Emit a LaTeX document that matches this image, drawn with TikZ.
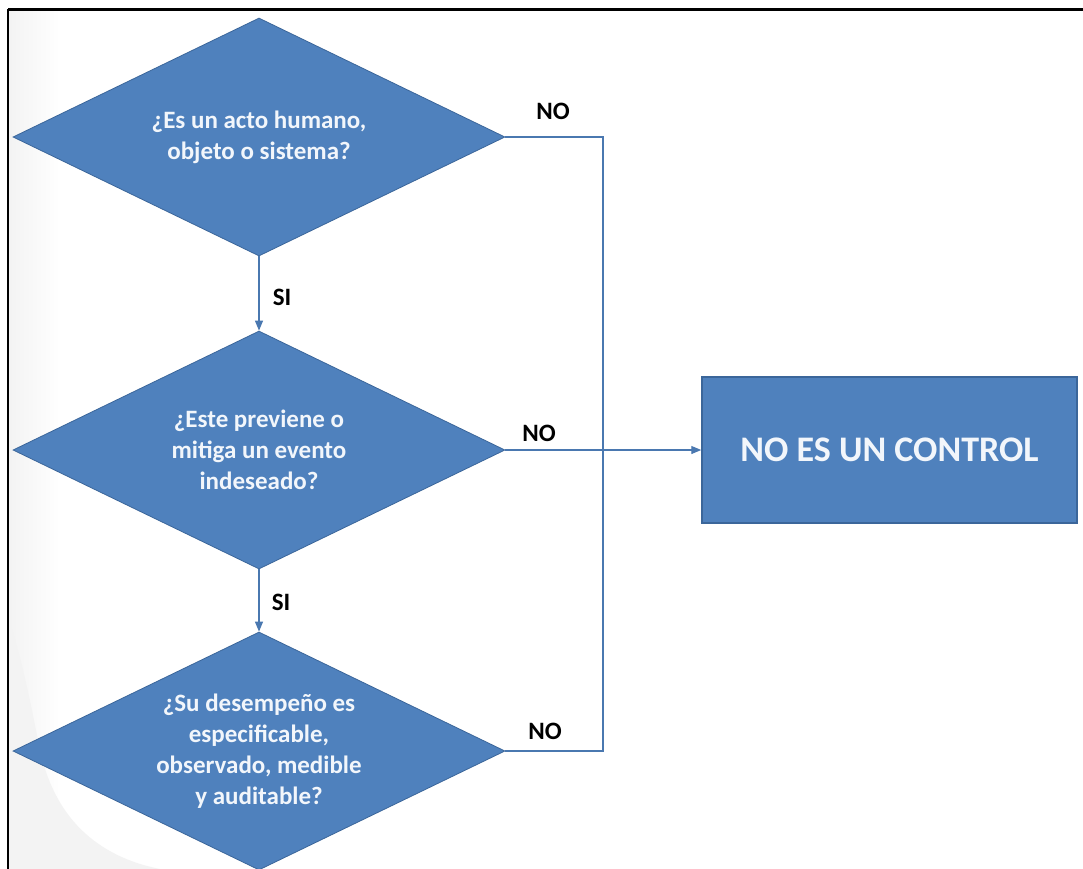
\documentclass[tikz,border=0pt]{standalone}
\usepackage{fontspec}
\setmainfont{Carlito}
\usetikzlibrary{shapes.geometric,arrows.meta}
\definecolor{boxblue}{HTML}{4F81BD}
\definecolor{boxedge}{HTML}{3B669A}
\definecolor{linkblue}{HTML}{4A78B0}
\definecolor{qtext}{HTML}{F2F6FB}
\definecolor{haze}{HTML}{F3F3F3}
\tikzset{
  question/.style={diamond, shape aspect=2, inner sep=0pt,
    minimum width=492pt, minimum height=238pt,
    fill=boxblue, draw=boxedge, line width=0.8pt,
    text=qtext, align=center,
    font=\bfseries\fontsize{25}{31}\selectfont},
  outcome/.style={rectangle, minimum width=375pt, minimum height=146pt,
    fill=boxblue, draw=boxedge, line width=1.5pt,
    text=qtext, font=\bfseries\fontsize{36}{40}\selectfont},
  link/.style={draw=linkblue, line width=1.2pt},
  flow/.style={link, -{Triangle[length=10pt,width=8pt]}},
  answer/.style={text=black, font=\bfseries\fontsize{25}{28}\selectfont, inner sep=0pt}
}
\begin{document}
\begin{tikzpicture}[x=1pt,y=-1pt]
\useasboundingbox (0,0) rectangle (1083,869);
\fill[white] (0,0) rectangle (1083,869);

% soft grey shadow along the left margin
\shade[left color=haze, right color=white] (9,10) rectangle (60,869);
\fill[haze] (9,620) .. controls (22,660) and (30,700) .. (38,740)
  .. controls (50,810) and (90,855) .. (160,869) -- (9,869) -- cycle;

% frame: top and left rules
\draw[black, line width=2.5pt] (8,9.5) -- (1083,9.5);
\draw[black, line width=2pt] (8,9) -- (8,869);

% decisions
\node[question] (q1) at (259,137) {¿Es un acto humano,\\objeto o sistema?};
\node[question] (q2) at (259,450) {¿Este previene o\\mitiga un evento\\indeseado?};
\node[question] (q3) at (259,751) {¿Su desempeño es\\especificable,\\observado, medible\\y auditable?};

% result
\node[outcome] (res) at (889.5,450) {NO ES UN CONTROL};

% junction on the collecting line
\coordinate (jn) at (603,450);

% connectors
\draw[flow] (q1.south) -- (q2.north);
\draw[flow] (q2.south) -- (q3.north);
\draw[link] (q1.east) -| (jn);
\draw[link] (q3.east) -| (jn);
\draw[flow] (q2.east) -- (res.west);

% answers
\node[answer] (n1) at (553,111) {NO};
\node[answer] (n2) at (539,433) {NO};
\node[answer] (n3) at (545,731) {NO};
\node[answer] (s1) at (282,297) {SI};
\node[answer] (s2) at (281,602) {SI};
\end{tikzpicture}
\end{document}
